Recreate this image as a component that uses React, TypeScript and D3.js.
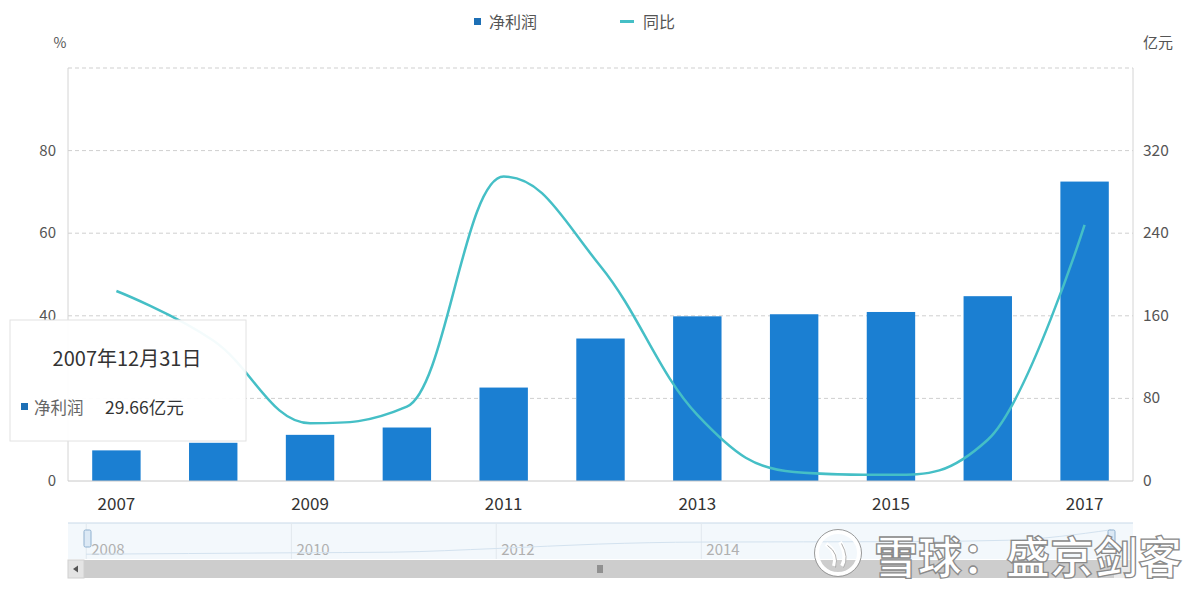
import React from 'react';
import * as d3 from 'd3';

// data
const years = ['2007', '2008', '2009', '2010', '2011', '2012', '2013', '2014', '2015', '2016', '2017'];
const netProfit = [29.66, 37, 44.7, 51.8, 90.5, 138, 159.5, 161.5, 163.7, 179, 290]; // 亿元
const yoy = [46, 34, 14, 18, 73.7, 52, 16, 2.2, 1.5, 10, 62]; // %
const leftTicks = [0, 20, 40, 60, 80, 100];
// the 20 label sits under the tooltip in the picture
const leftTickLabels = ['0', '', '40', '60', '80', ''];
const rightTicks = [0, 80, 160, 240, 320];
const navTicks = ['2008', '2010', '2012', '2014'];

const W = 1200;
const H = 591;
const margin = { top: 68, right: 67, bottom: 110, left: 68 };
const FONT = '"Noto Sans CJK SC", "Noto Sans", sans-serif';

const BAR = '#1b7fd2';
const LINE = '#45bfc6';

// spline like the charting lib in the picture: smooth, but no overshoot past neighbours
function curveSpline(context: any) {
  let pts: [number, number][] = [];
  return {
    areaStart() {},
    areaEnd() {},
    lineStart() { pts = []; },
    point(x: number, y: number) { pts.push([+x, +y]); },
    lineEnd() {
      const n = pts.length;
      if (!n) return;
      const ctl = pts.map((p, i) => {
        if (i === 0 || i === n - 1) return [p[0], p[1], p[0], p[1]];
        const [lx, ly] = pts[i - 1];
        const [nx, ny] = pts[i + 1];
        const [x, y] = p;
        const s = 1.5, d = s + 1;
        const lcx = (s * x + lx) / d, rcx = (s * x + nx) / d;
        let lcy = (s * y + ly) / d, rcy = (s * y + ny) / d;
        const corr = ((rcy - lcy) * (rcx - x)) / (rcx - lcx) + y - rcy;
        lcy += corr; rcy += corr;
        if (lcy > ly && lcy > y) { lcy = Math.max(ly, y); rcy = 2 * y - lcy; }
        else if (lcy < ly && lcy < y) { lcy = Math.min(ly, y); rcy = 2 * y - lcy; }
        if (rcy > ny && rcy > y) { rcy = Math.max(ny, y); lcy = 2 * y - rcy; }
        else if (rcy < ny && rcy < y) { rcy = Math.min(ny, y); lcy = 2 * y - rcy; }
        return [lcx, lcy, rcx, rcy];
      });
      context.moveTo(pts[0][0], pts[0][1]);
      for (let i = 1; i < n; i++) {
        context.bezierCurveTo(ctl[i - 1][2], ctl[i - 1][3], ctl[i][0], ctl[i][1], pts[i][0], pts[i][1]);
      }
    },
  };
}

const App: React.FC = () => {
  const x = d3.scaleBand<string>()
    .domain(years)
    .range([margin.left, W - margin.right])
    .paddingInner(0.5)
    .paddingOuter(0.25);

  const yL = d3.scaleLinear().domain([0, 100]).range([H - margin.bottom, margin.top]);
  const yR = d3.scaleLinear().domain([0, 400]).range([H - margin.bottom, margin.top]);

  const cx = (d: string) => (x(d) || 0) + x.bandwidth() / 2;

  const line = d3.line<number>()
    .x((_, i) => cx(years[i]))
    .y(d => yL(d))
    .curve(curveSpline as any);

  // navigator
  const navTop = 523;
  const navBottom = 559;
  const xNav = d3.scaleTime()
    .domain([new Date(2007, 11, 31), new Date(2017, 11, 31)])
    .range([86, 1111]);
  const yNav = d3.scaleLinear().domain([0, 320]).range([navBottom - 2, navTop + 4]);
  const navLine = d3.line<number>()
    .x((_, i) => xNav(new Date(+years[i], 11, 31)))
    .y(d => yNav(d))
    .curve(d3.curveMonotoneX);

  const x0 = margin.left;
  const x1 = W - margin.right;
  const yb = H - margin.bottom;

  return (
    <svg width={W} height={H} style={{ position: 'absolute', left: 0, top: 0, background: '#fff', fontFamily: FONT }}>
      {/* legend */}
      <rect x={474} y={18} width={7} height={7} fill="#1d6fb5" />
      <text x={489} y={28} fontSize={16} fill="#555">净利润</text>
      <line x1={620} x2={634} y1={21.5} y2={21.5} stroke={LINE} strokeWidth={3} />
      <text x={643} y={28} fontSize={16} fill="#555">同比</text>

      {/* axis units */}
      <text x={60} y={48} fontSize={14} fill="#555" textAnchor="middle">%</text>
      <text x={1158} y={48} fontSize={15} fill="#555" textAnchor="middle">亿元</text>

      {/* grid */}
      {leftTicks.filter(t => t > 0).map(t => (
        <line key={t} x1={x0} x2={x1} y1={yL(t)} y2={yL(t)} stroke="#cfcfcf" strokeDasharray="4,3" />
      ))}
      <line x1={x0} x2={x0} y1={margin.top} y2={yb} stroke="#d4d4d4" />
      <line x1={x1} x2={x1} y1={margin.top} y2={yb} stroke="#d4d4d4" />

      {/* left ticks */}
      {leftTicks.map((t, i) => leftTickLabels[i] ? (
        <text key={t} x={56} y={yL(t) + 5} fontSize={15} fill="#555" textAnchor="end">{leftTickLabels[i]}</text>
      ) : null)}
      {/* right ticks */}
      {rightTicks.map(t => (
        <text key={t} x={1143} y={yR(t) + 5} fontSize={15.5} fill="#555">{t}</text>
      ))}

      {/* bars */}
      {years.map((yr, i) => (
        <rect key={yr} x={x(yr)} y={yR(netProfit[i])} width={x.bandwidth()} height={yb - yR(netProfit[i])} fill={BAR} />
      ))}
      <line x1={x0} x2={x1} y1={yb} y2={yb} stroke="#c8c8c8" />

      {/* x labels */}
      {years.filter((_, i) => i % 2 === 0).map(yr => (
        <text key={yr} x={cx(yr)} y={510} fontSize={17} fill="#333" textAnchor="middle">{yr}</text>
      ))}

      {/* yoy line */}
      <path d={line(yoy) || ''} fill="none" stroke={LINE} strokeWidth={2.5} />

      {/* tooltip */}
      <rect x={10} y={320} width={236} height={121} fill="#fff" fillOpacity={0.94} stroke="#e2e2e2" />
      <text x={127} y={366} fontSize={20} fill="#333" textAnchor="middle">2007年12月31日</text>
      <rect x={21} y={403} width={7} height={7} fill="#1d6fb5" />
      <text x={34} y={414} fontSize={16.5} fill="#666">净利润</text>
      <text x={105} y={414} fontSize={17.5} fill="#333">{netProfit[0].toFixed(2)}亿元</text>

      {/* navigator */}
      <rect x={x0} y={navTop} width={x1 - x0} height={navBottom - navTop} fill="#f3f8fc" />
      <line x1={x0} x2={x1} y1={navTop} y2={navTop} stroke="#c9d9e8" />
      {navTicks.map(t => {
        const px = xNav(new Date(+t, 0, 1));
        return (
          <g key={t}>
            <line x1={px} x2={px} y1={navTop} y2={navBottom} stroke="#e2e8ee" />
            <text x={px + 5} y={555} fontSize={15} fill="#b0b0b0">{t}</text>
          </g>
        );
      })}
      <path d={navLine(netProfit) || ''} fill="none" stroke="#d3e2ef" strokeWidth={1} />
      <rect x={84} y={530} width={7} height={17} rx={1.5} fill="#dce9f5" stroke="#8fb0cf" />
      <rect x={1108} y={530} width={7} height={17} rx={1.5} fill="#dce9f5" stroke="#8fb0cf" />

      {/* scrollbar */}
      <rect x={x0} y={560} width={x1 - x0} height={18} fill="#eaeaea" />
      <rect x={84} y={560} width={1030} height={18} fill="#cdcdcd" />
      <rect x={x0} y={560} width={16} height={18} fill="#e4e4e4" stroke="#d0d0d0" />
      <path d="M73,569 L78,565.5 L78,572.5 Z" fill="#555" />
      {[-2, 0, 2].map(o => (
        <line key={o} x1={600 + o} x2={600 + o} y1={565} y2={573} stroke="#555" />
      ))}

      {/* watermark */}
      <g>
        <circle cx={838} cy={553} r={21} fill="none" stroke="#fff" strokeWidth={4} />
        <circle cx={838} cy={553} r={23.5} fill="none" stroke="#9a9a9a" strokeWidth={1} />
        <path d="M826,544 Q838,552 834,566 M840,542 Q848,556 842,566" fill="none" stroke="#fff" strokeWidth={4} />
        <path d="M826,544 Q838,552 834,566 M840,542 Q848,556 842,566" fill="none" stroke="#9a9a9a" strokeWidth={0.8} transform="translate(1.5,1.5)" />
        <text x={874} y={574} fontSize={44} fontWeight={700} fill="#fff" stroke="#8a8a8a" strokeWidth={1.3}>雪球：盛京剑客</text>
      </g>
    </svg>
  );
};

export default App;
